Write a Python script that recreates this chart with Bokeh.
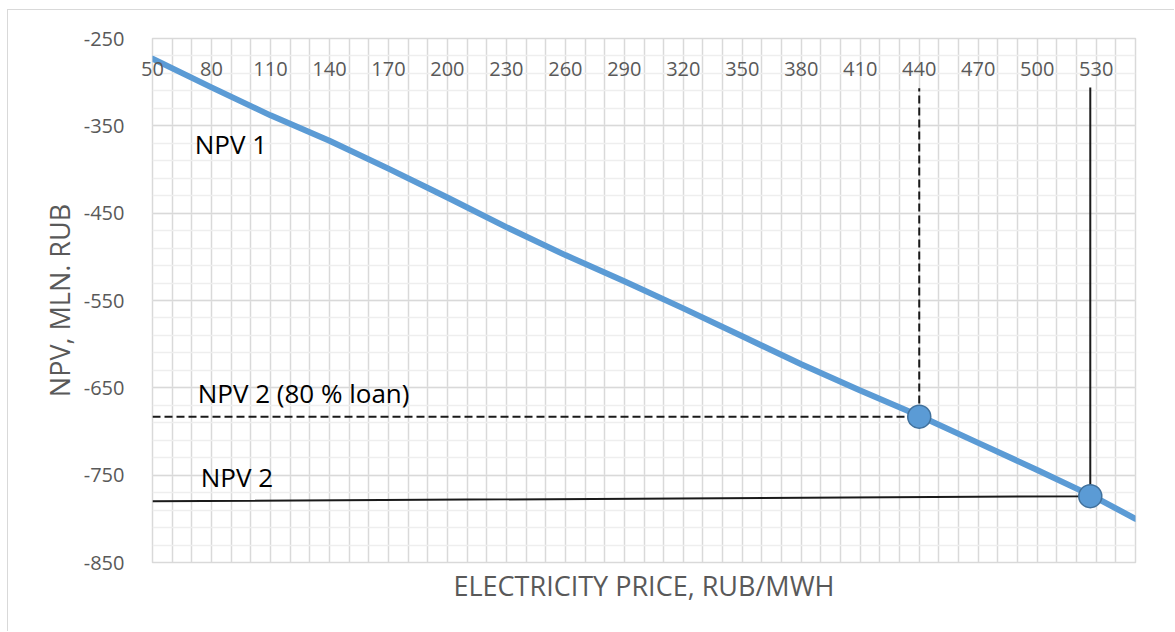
from bokeh.plotting import figure
from bokeh.models import Range1d, FixedTicker, Label, LinearAxis, CustomJSTickFormatter
from bokeh.embed import file_html
from bokeh.resources import INLINE

# ---- data ----
price = [50, 80, 110, 140, 170, 200, 230, 260, 290, 320, 350, 380, 410, 440, 470, 500, 530, 550]
npv1 = [-273, -306, -338, -367, -399, -432, -466, -498, -528, -559, -591, -623, -653, -682, -713, -744, -776, -800]

x_tick_values = [50, 80, 110, 140, 170, 200, 230, 260, 290, 320, 350, 380, 410, 440, 470, 500, 530]
y_ticks = [-250, -350, -450, -550, -650, -750, -850]

npv2_loan_x = [50, 440, 440]
npv2_loan_y = [-683, -683, -307]
npv2_x = [50, 527, 527]
npv2_y = [-780, -774, -306]
point_x = [440, 527]
point_y = [-683, -774]

FONT = "Open Sans"
GRAY = "#595959"
GRID = "#D9D9D9"

p = figure(width=1167, height=622, output_backend="svg", toolbar_location=None,
           x_range=Range1d(50, 550), y_range=Range1d(-850, -250),
           x_axis_location=None, y_axis_location=None,
           min_border_left=144, min_border_right=40, min_border_top=28, min_border_bottom=70)
p.styles = {"margin-left": "7px", "margin-top": "9px",
            "border-top": "1px solid #D9D9D9", "border-left": "1px solid #D9D9D9"}
p.outline_line_color = GRID
p.outline_line_width = 1.5

# grids
p.xgrid.ticker = FixedTicker(ticks=list(range(50, 551, 10)))
p.xgrid.grid_line_color = GRID
p.xgrid.grid_line_width = 1.5
p.ygrid.ticker = FixedTicker(ticks=y_ticks, minor_ticks=list(range(-850, -249, 20)))
p.ygrid.grid_line_color = GRID
p.ygrid.grid_line_width = 1.5
p.ygrid.minor_grid_line_color = "#EEEEEE"
p.ygrid.minor_grid_line_width = 1.5

# y axis
yaxis = LinearAxis(ticker=FixedTicker(ticks=y_ticks),
                   formatter=CustomJSTickFormatter(code="return tick.toFixed(0)"))
yaxis.axis_line_color = None
yaxis.major_tick_line_color = None
yaxis.minor_tick_line_color = None
yaxis.major_label_standoff = 22
yaxis.major_label_text_font = FONT
yaxis.major_label_text_font_size = "20px"
yaxis.major_label_text_color = GRAY
yaxis.axis_label = "NPV, MLN. RUB"
yaxis.axis_label_text_font = FONT
yaxis.axis_label_text_font_size = "27px"
yaxis.axis_label_text_font_style = "normal"
yaxis.axis_label_text_color = GRAY
yaxis.axis_label_standoff = 3
p.add_layout(yaxis, "left")

# x axis title only
xaxis = LinearAxis(ticker=FixedTicker(ticks=[]))
xaxis.axis_line_color = None
xaxis.major_tick_line_color = None
xaxis.minor_tick_line_color = None
xaxis.axis_label = "ELECTRICITY PRICE, RUB/MWH"
xaxis.axis_label_text_font = FONT
xaxis.axis_label_text_font_size = "27px"
xaxis.axis_label_text_font_style = "normal"
xaxis.axis_label_text_color = GRAY
xaxis.axis_label_standoff = 4
p.add_layout(xaxis, "below")

# x tick labels: axis crosses at the top, labels hang inside the plot
top_axis = LinearAxis(ticker=FixedTicker(ticks=x_tick_values))
top_axis.axis_line_color = None
top_axis.major_tick_line_color = None
top_axis.minor_tick_line_color = None
top_axis.major_label_standoff = -43
top_axis.major_label_text_font = FONT
top_axis.major_label_text_font_size = "20px"
top_axis.major_label_text_color = GRAY
top_axis.major_label_text_baseline = "alphabetic"
p.add_layout(top_axis, "above")

# reference lines
p.line(npv2_loan_x, npv2_loan_y, line_color="#1a1a1a", line_width=2, line_dash="8 4")
p.line(npv2_x, npv2_y, line_color="#1a1a1a", line_width=2)

# NPV 1 curve
p.line(price, npv1, line_color="#5B9BD5", line_width=6, line_join="round", line_cap="round")
p.scatter(point_x, point_y, size=23, fill_color="#5B9BD5", line_color="#41719C", line_width=1.5)

# text labels
for txt, lx, ly in [("NPV 1", 71.5, -370.5), ("NPV 2 (80 % loan)", 73, -655.5), ("NPV 2", 74.5, -752)]:
    p.add_layout(Label(x=lx, y=ly, text=txt, text_font=FONT, text_font_size="26px",
                       text_color="#000000", text_baseline="alphabetic"))

open("out.html", "w").write(file_html(p, INLINE))
